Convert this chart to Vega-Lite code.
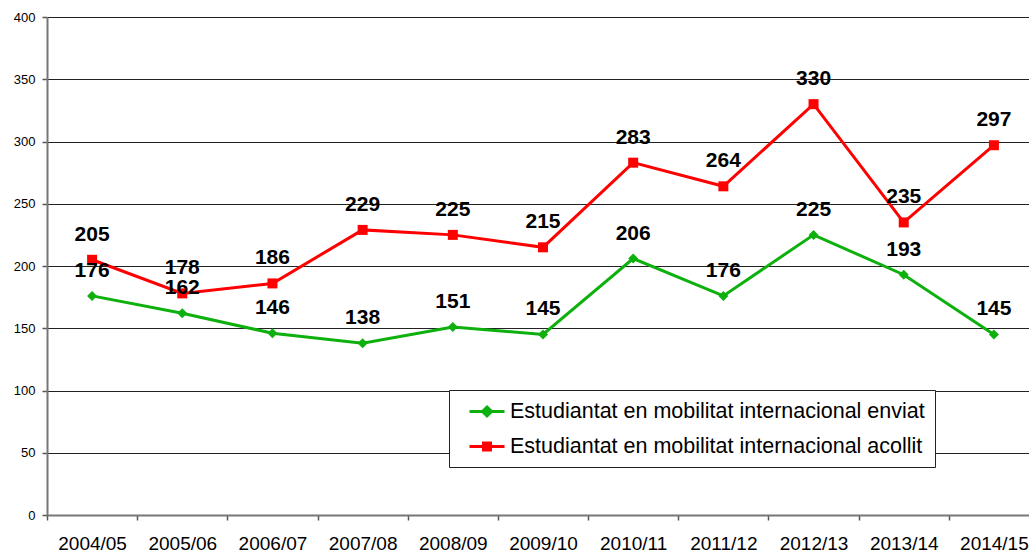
{
  "$schema": "https://vega.github.io/schema/vega-lite/v6.json",
  "width": 982,
  "height": 498,
  "autosize": "none",
  "padding": {"left": 47, "top": 17, "right": 0, "bottom": 37},
  "background": "white",
  "config": {
    "view": {"stroke": null},
    "font": "Liberation Sans",
    "axis": {"labelFont": "Liberation Sans", "labelColor": "black", "title": null}
  },
  "data": {"values": [
    {"year": "2004/05", "serie": "Estudiantat en mobilitat internacional enviat", "value": 176},
    {"year": "2005/06", "serie": "Estudiantat en mobilitat internacional enviat", "value": 162},
    {"year": "2006/07", "serie": "Estudiantat en mobilitat internacional enviat", "value": 146},
    {"year": "2007/08", "serie": "Estudiantat en mobilitat internacional enviat", "value": 138},
    {"year": "2008/09", "serie": "Estudiantat en mobilitat internacional enviat", "value": 151},
    {"year": "2009/10", "serie": "Estudiantat en mobilitat internacional enviat", "value": 145},
    {"year": "2010/11", "serie": "Estudiantat en mobilitat internacional enviat", "value": 206},
    {"year": "2011/12", "serie": "Estudiantat en mobilitat internacional enviat", "value": 176},
    {"year": "2012/13", "serie": "Estudiantat en mobilitat internacional enviat", "value": 225},
    {"year": "2013/14", "serie": "Estudiantat en mobilitat internacional enviat", "value": 193},
    {"year": "2014/15", "serie": "Estudiantat en mobilitat internacional enviat", "value": 145},
    {"year": "2004/05", "serie": "Estudiantat en mobilitat internacional acollit", "value": 205},
    {"year": "2005/06", "serie": "Estudiantat en mobilitat internacional acollit", "value": 178},
    {"year": "2006/07", "serie": "Estudiantat en mobilitat internacional acollit", "value": 186},
    {"year": "2007/08", "serie": "Estudiantat en mobilitat internacional acollit", "value": 229},
    {"year": "2008/09", "serie": "Estudiantat en mobilitat internacional acollit", "value": 225},
    {"year": "2009/10", "serie": "Estudiantat en mobilitat internacional acollit", "value": 215},
    {"year": "2010/11", "serie": "Estudiantat en mobilitat internacional acollit", "value": 283},
    {"year": "2011/12", "serie": "Estudiantat en mobilitat internacional acollit", "value": 264},
    {"year": "2012/13", "serie": "Estudiantat en mobilitat internacional acollit", "value": 330},
    {"year": "2013/14", "serie": "Estudiantat en mobilitat internacional acollit", "value": 235},
    {"year": "2014/15", "serie": "Estudiantat en mobilitat internacional acollit", "value": 297}
  ]},
  "encoding": {
    "x": {
      "field": "year", "type": "nominal", "sort": null,
      "scale": {"type": "band", "range": [0, 992], "paddingInner": 0, "paddingOuter": 0},
      "axis": {
        "labelAngle": 0, "labelFontSize": 19, "labelPadding": 14,
        "tickBand": "extent", "tickSize": 5, "tickColor": "#555", "tickWidth": 1.5,
        "domainColor": "#777", "domainWidth": 2, "grid": false
      }
    },
    "y": {
      "field": "value", "type": "quantitative",
      "scale": {"domain": [0, 400], "nice": false, "zero": true},
      "axis": {
        "values": [0, 50, 100, 150, 200, 250, 300, 350, 400],
        "labelFontSize": 13, "labelPadding": 7, "tickSize": 5,
        "tickColor": "#555", "tickWidth": 1.5, "domainColor": "#777", "domainWidth": 2,
        "grid": true, "gridColor": "#222", "gridWidth": 1, "gridOpacity": 1
      }
    },
    "color": {
      "field": "serie", "type": "nominal",
      "scale": {
        "domain": ["Estudiantat en mobilitat internacional enviat", "Estudiantat en mobilitat internacional acollit"],
        "range": ["#0DB00D", "#FF0000"]
      },
      "legend": {
        "title": null, "orient": "none", "legendX": 402, "legendY": 373,
        "strokeColor": "#222", "fillColor": "white", "padding": 10,
        "labelFontSize": 21.5, "labelFont": "Liberation Sans", "labelColor": "black",
        "labelLimit": 0, "rowPadding": 13, "symbolSize": 400, "labelOffset": 28,
        "symbolType": "M0,0H3.5",
        "encode": {
          "symbols": {"update": {
            "shape": [
              {"test": "datum.value === 'Estudiantat en mobilitat internacional enviat'", "value": "M-0.1,0H3.4M1.65,-0.45L2.1,0L1.65,0.45L1.2,0Z"},
              {"value": "M-0.1,0H3.4M1.3,-0.35H2.0V0.35H1.3Z"}
            ],
            "fill": [
              {"test": "datum.value === 'Estudiantat en mobilitat internacional enviat'", "value": "#0DB00D"},
              {"value": "#FF0000"}
            ],
            "stroke": [
              {"test": "datum.value === 'Estudiantat en mobilitat internacional enviat'", "value": "#0DB00D"},
              {"value": "#FF0000"}
            ],
            "strokeWidth": {"value": 3},
            "opacity": {"value": 1},
            "fillOpacity": {"value": 1}
          }}
        }
      }
    }
  },
  "layer": [
    {"mark": {"type": "line", "strokeWidth": 3}},
    {
      "transform": [{"filter": "datum.serie === 'Estudiantat en mobilitat internacional enviat'"}],
      "mark": {"type": "point", "filled": true, "opacity": 1, "size": 100, "shape": "diamond"}
    },
    {
      "transform": [{"filter": "datum.serie === 'Estudiantat en mobilitat internacional acollit'"}],
      "mark": {"type": "point", "filled": true, "opacity": 1, "size": 100, "shape": "square"}
    },
    {
      "mark": {"type": "text", "dy": -25, "fontSize": 21, "fontWeight": "bold", "font": "Liberation Sans", "color": "black"},
      "encoding": {"text": {"field": "value", "type": "quantitative"}, "color": {"value": "black"}}
    }
  ]
}
